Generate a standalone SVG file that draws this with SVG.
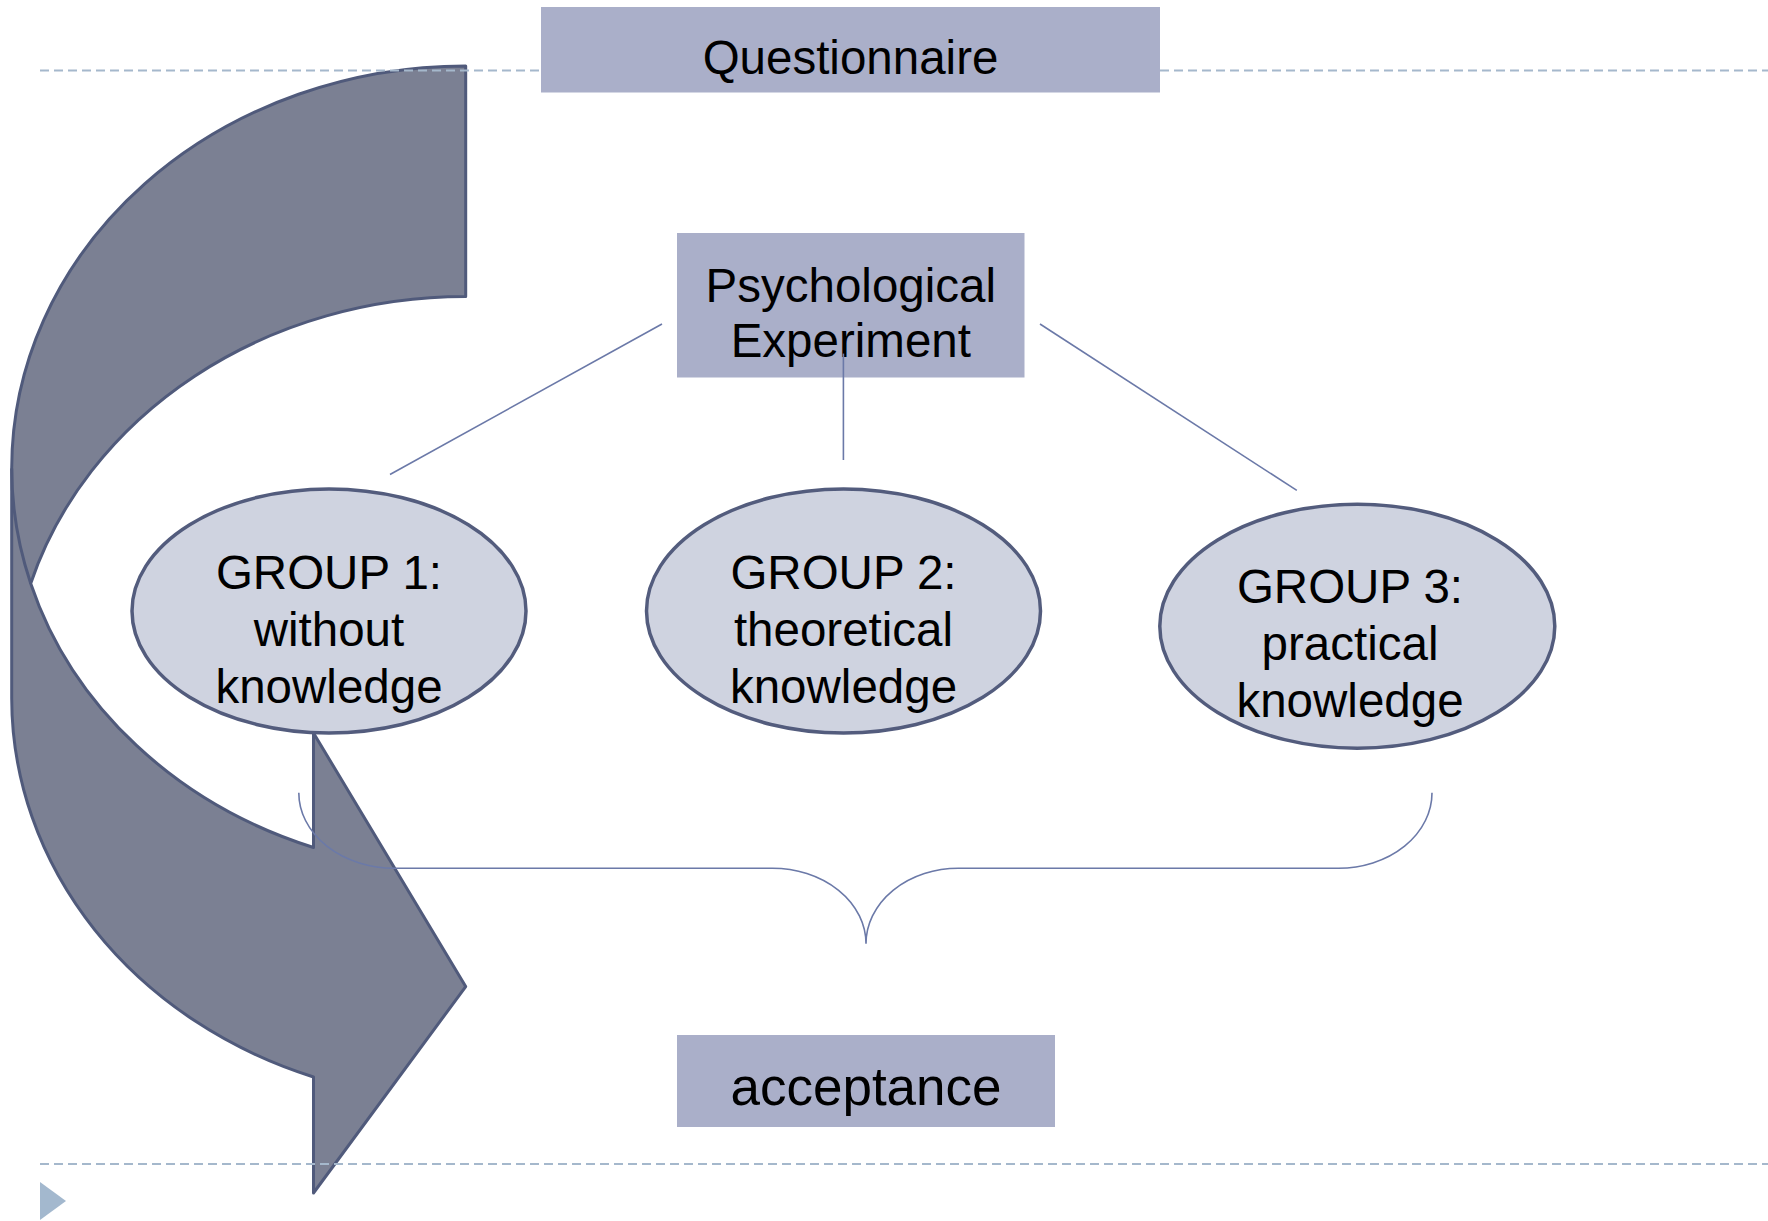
<svg xmlns="http://www.w3.org/2000/svg" width="1768" height="1221" viewBox="0 0 1768 1221">
<style>
.box{fill:#AAAFC9}
.ell{fill:#CFD3E0;stroke:#535C7D;stroke-width:3.5}
.txt{font-family:"Liberation Sans",Arial,sans-serif;font-size:47.5px;fill:#000;text-anchor:middle}
.conn{fill:none;stroke:#6B79A8;stroke-width:1.6}
.dash{fill:none;stroke:#A5B8CC;stroke-width:2;stroke-dasharray:9 5}
.arrow{fill:#7B8093;stroke:#505A7B;stroke-width:3;stroke-linejoin:round}
</style>
<rect width="1768" height="1221" fill="#fff"/>
<g id="curved-arrow">
<path class="arrow" d="M465.7,66 A454,402.4 0 0 0 11.7,468.4 L11.7,698.4 A454,402.4 0 0 0 313.5,1077 L313.5,1193 L465.7,986.6 L313.5,733 L313.5,847.5 A454,402.4 0 0 1 30.7,583.4 A454,402.4 0 0 1 465.7,296.6 Z"/>
<path d="M11.7,468.4 A454,402.4 0 0 0 30.7,583.4" fill="none" stroke="#505A7B" stroke-width="3"/>
</g>
<g id="guides">
<line class="dash" x1="40" y1="70.4" x2="1768" y2="70.4"/>
<line class="dash" x1="40" y1="1164" x2="1768" y2="1164"/>
<polygon points="40,1182 66,1201 40,1220" fill="#A3B8CE"/>
</g>
<g id="questionnaire">
<rect class="box" x="541" y="7" width="619" height="85.5"/>
<text class="txt" x="850.5" y="74">Questionnaire</text>
</g>
<g id="psychological-experiment">
<rect class="box" x="677" y="233" width="347.5" height="144.5"/>
<text class="txt" x="850.8" y="302">Psychological</text>
<text class="txt" x="850.8" y="357">Experiment</text>
</g>
<g id="acceptance">
<rect class="box" x="677" y="1035" width="378" height="92"/>
<text class="txt" x="866" y="1105" style="font-size:53px">acceptance</text>
</g>
<g id="connectors">
<line class="conn" x1="662" y1="324" x2="390" y2="474.5"/>
<line class="conn" x1="843.4" y1="353.6" x2="843.4" y2="460"/>
<line class="conn" x1="1040" y1="324" x2="1296.8" y2="490.4"/>
<path class="conn" d="M298.8,792.7 A95.8,75.5 0 0 0 394.6,868.2 L772.4,868.2 A93.6,75.5 0 0 1 866,943.7 A92.4,75.5 0 0 1 958.4,868.2 L1338.4,868.2 A93.6,75.5 0 0 0 1432,792.7"/>
</g>
<g id="group1">
<ellipse class="ell" cx="329" cy="611" rx="197" ry="122"/>
<text class="txt" x="329" y="589">GROUP 1:</text>
<text class="txt" x="329" y="646">without</text>
<text class="txt" x="329" y="703">knowledge</text>
</g>
<g id="group2">
<ellipse class="ell" cx="843.5" cy="611" rx="197" ry="122"/>
<text class="txt" x="843.5" y="589">GROUP 2:</text>
<text class="txt" x="843.5" y="646">theoretical</text>
<text class="txt" x="843.5" y="703">knowledge</text>
</g>
<g id="group3">
<ellipse class="ell" cx="1357.3" cy="626.2" rx="197.5" ry="122"/>
<text class="txt" x="1350" y="603">GROUP 3:</text>
<text class="txt" x="1350" y="660">practical</text>
<text class="txt" x="1350" y="717">knowledge</text>
</g>
</svg>
